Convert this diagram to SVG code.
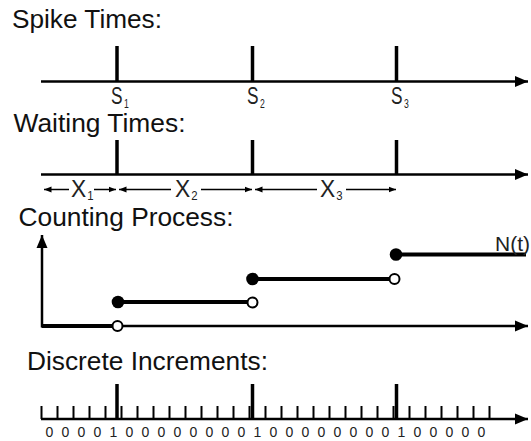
<svg xmlns="http://www.w3.org/2000/svg" width="531" height="441" viewBox="0 0 531 441">
<style>
.title{font-family:"Liberation Sans",Arial,sans-serif;font-size:25px;fill:#111}
.lbl{font-family:"Liberation Sans",Arial,sans-serif;font-size:24px;fill:#222}
.sub{font-size:12px}
.dig{font-family:"Liberation Sans",Arial,sans-serif;font-size:14px;fill:#222;text-anchor:middle}
.axis{stroke:#000;stroke-width:2.5;fill:none;marker-end:url(#ah)}
.spike{stroke:#000;stroke-width:3.5}
.tick{stroke:#000;stroke-width:2}
.span{stroke:#000;stroke-width:1.5;marker-end:url(#sa)}
.step{stroke:#000;stroke-width:4}
.dot{fill:#000}
.open{fill:#fff;stroke:#000;stroke-width:2}
</style>
<defs>
<marker id="ah" markerUnits="userSpaceOnUse" markerWidth="14" markerHeight="12" refX="13" refY="6" orient="auto">
<path d="M0,0.5 L13,6 L0,11.5 z" fill="#000"/>
</marker>
<marker id="sa" markerUnits="userSpaceOnUse" markerWidth="8" markerHeight="7" refX="7.5" refY="3.5" orient="auto">
<path d="M0,0.5 L7.5,3.5 L0,6.5 z" fill="#000"/>
</marker>
</defs>
<rect width="531" height="441" fill="#fff"/>

<g id="spike-times">
<text class="title" x="12" y="28" textLength="150" lengthAdjust="spacingAndGlyphs">Spike Times:</text>
<line class="axis" x1="41" y1="81.5" x2="528" y2="81.5"/>
<line class="spike" x1="117" y1="46" x2="117" y2="81.5"/>
<line class="spike" x1="252.5" y1="46" x2="252.5" y2="81.5"/>
<line class="spike" x1="396.5" y1="46" x2="396.5" y2="81.5"/>
<text class="lbl" transform="translate(111,104) scale(0.72,1)">S<tspan class="sub" dx="2" dy="4">1</tspan></text>
<text class="lbl" transform="translate(247,104) scale(0.72,1)">S<tspan class="sub" dx="2" dy="4">2</tspan></text>
<text class="lbl" transform="translate(391,104) scale(0.72,1)">S<tspan class="sub" dx="2" dy="4">3</tspan></text>
</g>

<g id="waiting-times">
<text class="title" x="13.5" y="132" textLength="172" lengthAdjust="spacingAndGlyphs">Waiting Times:</text>
<line class="axis" x1="41" y1="174.5" x2="528" y2="174.5"/>
<line class="spike" x1="117" y1="140" x2="117" y2="174.5"/>
<line class="spike" x1="252.5" y1="140" x2="252.5" y2="174.5"/>
<line class="spike" x1="396.5" y1="140" x2="396.5" y2="174.5"/>
<text class="lbl" transform="translate(71,197) scale(0.95,1)">X<tspan class="sub" dx="1" dy="3">1</tspan></text>
<text class="lbl" transform="translate(175,197) scale(0.95,1)">X<tspan class="sub" dx="1" dy="3">2</tspan></text>
<text class="lbl" transform="translate(320,197) scale(0.95,1)">X<tspan class="sub" dx="1" dy="3">3</tspan></text>
</g>

<g id="connectors">
<line class="span" x1="69" y1="189.5" x2="44" y2="189.5"/>
<line class="span" x1="94" y1="189.5" x2="116" y2="189.5"/>
<line class="span" x1="171" y1="189.5" x2="119" y2="189.5"/>
<line class="span" x1="201" y1="189.5" x2="252" y2="189.5"/>
<line class="span" x1="317" y1="189.5" x2="255" y2="189.5"/>
<line class="span" x1="346" y1="189.5" x2="396" y2="189.5"/>
</g>

<g id="counting-process">
<text class="title" x="18.5" y="225.5" textLength="215" lengthAdjust="spacingAndGlyphs">Counting Process:</text>
<line class="axis" x1="42" y1="327.5" x2="42" y2="235"/>
<line class="axis" x1="41" y1="326" x2="528" y2="326"/>
<line class="step" x1="42" y1="326" x2="112" y2="326"/>
<line class="step" x1="118" y1="302" x2="252.5" y2="302"/>
<line class="step" x1="252.5" y1="279" x2="395" y2="279"/>
<line class="step" x1="396" y1="254.5" x2="526" y2="254.5"/>
<circle class="open" cx="117.5" cy="326" r="5"/>
<circle class="dot" cx="118" cy="302" r="6.3"/>
<circle class="open" cx="252.5" cy="302.5" r="5"/>
<circle class="dot" cx="252.5" cy="279" r="6.3"/>
<circle class="open" cx="394.5" cy="279" r="5"/>
<circle class="dot" cx="396" cy="254.5" r="6.3"/>
<text class="lbl" x="495" y="251" textLength="35" lengthAdjust="spacingAndGlyphs" style="font-size:21px">N(t)</text>
</g>

<g id="discrete-increments">
<text class="title" x="27" y="370" textLength="241" lengthAdjust="spacingAndGlyphs">Discrete Increments:</text>
<line class="axis" x1="41" y1="419" x2="528" y2="419"/>
<path class="tick" d="M41.5,406V419M57.5,406V419M73.5,406V419M89.5,406V419M105.5,406V419M121.5,406V419M137.5,406V419M153.5,406V419M169.5,406V419M185.5,406V419M201.5,406V419M217.5,406V419M233.5,406V419M249.5,406V419M265.5,406V419M281.5,406V419M297.5,406V419M313.5,406V419M329.5,406V419M345.5,406V419M361.5,406V419M377.5,406V419M393.5,406V419M409.5,406V419M425.5,406V419M441.5,406V419M457.5,406V419M473.5,406V419M489.5,406V419"/>
<line class="spike" x1="117" y1="384" x2="117" y2="419"/>
<line class="spike" x1="252.5" y1="384" x2="252.5" y2="419"/>
<line class="spike" x1="396.5" y1="384" x2="396.5" y2="419"/>
<text class="dig" y="436.5"><tspan x="49.5">0</tspan><tspan x="65.5">0</tspan><tspan x="81.5">0</tspan><tspan x="97.5">0</tspan><tspan x="113.5">1</tspan><tspan x="129.5">0</tspan><tspan x="145.5">0</tspan><tspan x="161.5">0</tspan><tspan x="177.5">0</tspan><tspan x="193.5">0</tspan><tspan x="209.5">0</tspan><tspan x="225.5">0</tspan><tspan x="241.5">0</tspan><tspan x="257.5">1</tspan><tspan x="273.5">0</tspan><tspan x="289.5">0</tspan><tspan x="305.5">0</tspan><tspan x="321.5">0</tspan><tspan x="337.5">0</tspan><tspan x="353.5">0</tspan><tspan x="369.5">0</tspan><tspan x="385.5">0</tspan><tspan x="401.5">1</tspan><tspan x="417.5">0</tspan><tspan x="433.5">0</tspan><tspan x="449.5">0</tspan><tspan x="465.5">0</tspan><tspan x="481.5">0</tspan></text>
</g>
</svg>
